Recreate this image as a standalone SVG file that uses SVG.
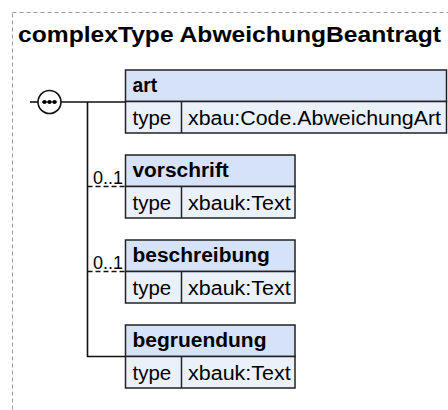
<svg xmlns="http://www.w3.org/2000/svg" width="448" height="410" viewBox="0 0 448 410">
<style>
.frame{fill:none;stroke:#999;stroke-width:1;stroke-dasharray:4,3}
.title{font-family:"Liberation Sans",Arial,sans-serif;font-weight:bold;font-size:21.5px;fill:#000}
.hdr{fill:#d5e2f7;stroke:#222;stroke-width:1.5}
.row{fill:#eaf1fb;stroke:#222;stroke-width:1.5}
.sep{stroke:#222;stroke-width:1.5}
.name{font-family:"Liberation Sans",Arial,sans-serif;font-weight:bold;font-size:20px;fill:#000}
.txt{font-family:"Liberation Sans",Arial,sans-serif;font-size:20px;fill:#000}
.card{font-family:"Liberation Sans",Arial,sans-serif;font-size:18px;fill:#000}
.line{fill:none;stroke:#111;stroke-width:1.6}
.opt{stroke-dasharray:5,3}
</style>
<rect class="frame" x="12.5" y="12.5" width="440" height="420"/>
<text class="title" x="18" y="42" textLength="423" lengthAdjust="spacingAndGlyphs">complexType AbweichungBeantragt</text>
<g id="connectors">
<path class="line" d="M30,102 H38"/>
<path class="line" d="M61,102 H125.5"/>
<path class="line" d="M87.5,102 V356.5 H125.5"/>
<path class="line opt" d="M87.5,186.5 H125.5"/>
<path class="line opt" d="M87.5,271.5 H125.5"/>
<text class="card" x="93" y="183.5" textLength="30" lengthAdjust="spacingAndGlyphs">0..1</text>
<text class="card" x="93" y="268.5" textLength="30" lengthAdjust="spacingAndGlyphs">0..1</text>
</g>
<g id="sequence">
<circle cx="49.5" cy="102" r="11.5" fill="#fff" stroke="#111" stroke-width="1.6"/>
<path d="M42,102 H57" stroke="#111" stroke-width="1.2"/>
<circle cx="44.5" cy="102" r="2.1"/>
<circle cx="49.5" cy="102" r="2.1"/>
<circle cx="54.5" cy="102" r="2.1"/>
</g>
<g id="art">
<rect class="hdr" x="125.5" y="70" width="321" height="31.5"/>
<rect class="row" x="125.5" y="101.5" width="321" height="31.5"/>
<line class="sep" x1="181.5" y1="101.5" x2="181.5" y2="133"/>
<text class="name" x="132.5" y="92" textLength="24.6" lengthAdjust="spacingAndGlyphs">art</text>
<text class="txt" x="132.5" y="124.5" textLength="38.7" lengthAdjust="spacingAndGlyphs">type</text>
<text class="txt" x="188" y="124.5" textLength="253" lengthAdjust="spacingAndGlyphs">xbau:Code.AbweichungArt</text>
</g>
<g id="vorschrift">
<rect class="hdr" x="125.5" y="155" width="169.5" height="31.5"/>
<rect class="row" x="125.5" y="186.5" width="169.5" height="31.5"/>
<line class="sep" x1="181.5" y1="186.5" x2="181.5" y2="218"/>
<text class="name" x="132.5" y="177" textLength="96.3" lengthAdjust="spacingAndGlyphs">vorschrift</text>
<text class="txt" x="132.5" y="209.5" textLength="38.7" lengthAdjust="spacingAndGlyphs">type</text>
<text class="txt" x="188" y="209.5" textLength="102.7" lengthAdjust="spacingAndGlyphs">xbauk:Text</text>
</g>
<g id="beschreibung">
<rect class="hdr" x="125.5" y="240" width="169.5" height="31.5"/>
<rect class="row" x="125.5" y="271.5" width="169.5" height="31.5"/>
<line class="sep" x1="181.5" y1="271.5" x2="181.5" y2="303"/>
<text class="name" x="132.5" y="262" textLength="137.3" lengthAdjust="spacingAndGlyphs">beschreibung</text>
<text class="txt" x="132.5" y="294.5" textLength="38.7" lengthAdjust="spacingAndGlyphs">type</text>
<text class="txt" x="188" y="294.5" textLength="102.7" lengthAdjust="spacingAndGlyphs">xbauk:Text</text>
</g>
<g id="begruendung">
<rect class="hdr" x="125.5" y="325" width="169.5" height="31.5"/>
<rect class="row" x="125.5" y="356.5" width="169.5" height="31.5"/>
<line class="sep" x1="181.5" y1="356.5" x2="181.5" y2="388"/>
<text class="name" x="132.5" y="347" textLength="134" lengthAdjust="spacingAndGlyphs">begruendung</text>
<text class="txt" x="132.5" y="379.5" textLength="38.7" lengthAdjust="spacingAndGlyphs">type</text>
<text class="txt" x="188" y="379.5" textLength="102.7" lengthAdjust="spacingAndGlyphs">xbauk:Text</text>
</g>
</svg>
